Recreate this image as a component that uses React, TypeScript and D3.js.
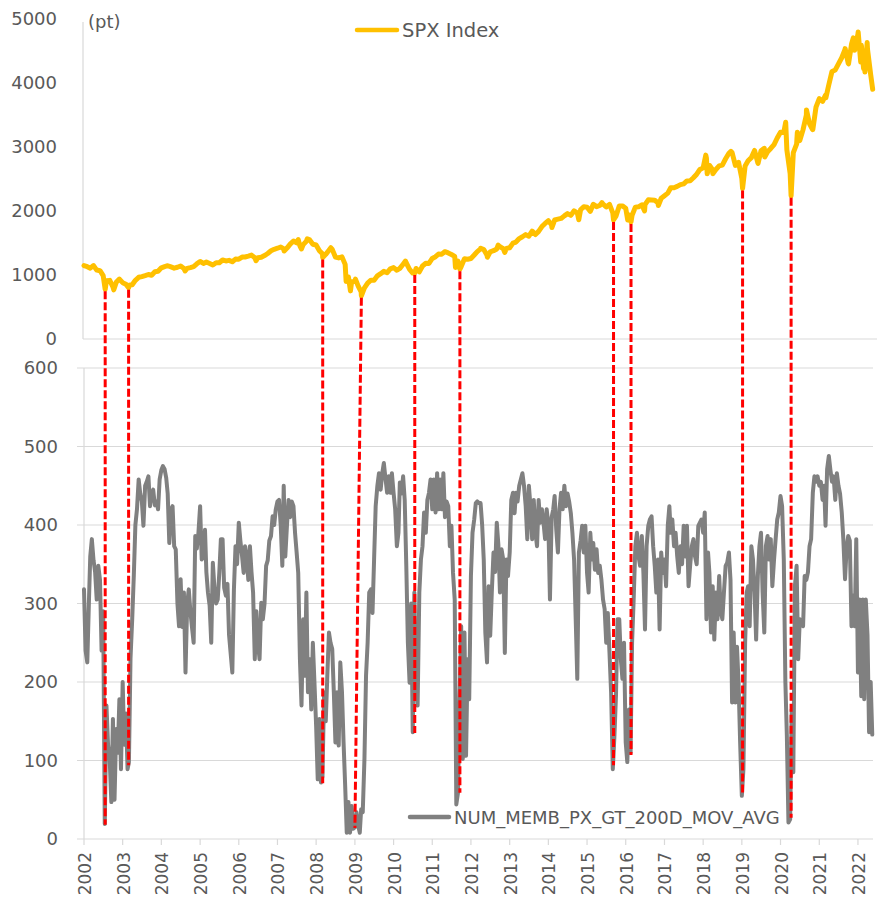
import React from 'react';
import * as d3 from 'd3';

// ---------- DATA ----------
// SPX Index: level at the first day of each month, Jan 2002 .. May 2022
const spxMonthly: number[] = [
  1148, 1130, 1107, 1147, 1077, 1067, 990, 912, 916, 815, 885, 936,
  880, 856, 841, 848, 917, 964, 975, 990, 1008, 996, 1051, 1058,
  1112, 1131, 1145, 1126, 1107, 1121, 1141, 1102, 1104, 1115, 1130, 1174,
  1212, 1181, 1204, 1181, 1157, 1192, 1191, 1234, 1220, 1229, 1207, 1249,
  1248, 1280, 1281, 1295, 1311, 1270, 1270, 1277, 1304, 1336, 1378, 1401,
  1418, 1438, 1407, 1421, 1482, 1531, 1503, 1455, 1474, 1527, 1549, 1481,
  1468, 1379, 1331, 1323, 1386, 1400, 1280, 1267, 1283, 1166, 969, 896,
  903, 826, 735, 798, 873, 919, 919, 987, 1021, 1057, 1036, 1096,
  1115, 1074, 1104, 1169, 1187, 1089, 1031, 1102, 1049, 1141, 1183, 1181,
  1258, 1286, 1327, 1326, 1364, 1345, 1321, 1292, 1219, 1131, 1253, 1247,
  1258, 1312, 1366, 1408, 1398, 1310, 1362, 1379, 1407, 1441, 1412, 1416,
  1426, 1498, 1515, 1569, 1598, 1631, 1606, 1686, 1633, 1682, 1757, 1806,
  1848, 1783, 1859, 1872, 1884, 1924, 1960, 1931, 2003, 1972, 2018, 2068,
  2059, 1995, 2105, 2068, 2086, 2107, 2063, 2104, 1972, 1920, 2079, 2080,
  2044, 1940, 1932, 2060, 2065, 2097, 2099, 2174, 2171, 2168, 2126, 2199,
  2239, 2279, 2364, 2363, 2384, 2412, 2423, 2470, 2472, 2519, 2575, 2648,
  2674, 2824, 2714, 2641, 2648, 2705, 2718, 2816, 2902, 2914, 2712, 2760,
  2507, 2704, 2784, 2834, 2946, 2752, 2942, 2980, 2926, 2977, 3038, 3141,
  3231, 3226, 2954, 2585, 2912, 3044, 3100, 3271, 3500, 3363, 3270, 3622,
  3756, 3714, 3811, 3973, 4181, 4204, 4298, 4395, 4523, 4308, 4605, 4567,
  4766, 4516, 4374, 4530, 4132,
];

// SPX Index: intra-month highs and lows
const spxExtremes: [string, number][] = [
  ['2002-07-20', 776], ['2002-10-09', 768], ['2003-02-26', 800], ['2004-08-12', 1064],
  ['2006-06-13', 1223], ['2007-03-05', 1374], ['2007-07-16', 1553], ['2007-08-15', 1406],
  ['2007-10-09', 1565], ['2008-03-03', 1273], ['2008-05-19', 1426], ['2008-10-10', 899],
  ['2008-11-20', 752], ['2009-01-06', 935], ['2009-03-03', 676], ['2010-04-23', 1217],
  ['2010-07-20', 1030], ['2011-04-29', 1363], ['2011-08-08', 1119], ['2011-09-19', 1090],
  ['2012-04-02', 1419], ['2012-06-04', 1278], ['2012-09-14', 1466], ['2012-11-15', 1353],
  ['2014-02-03', 1741], ['2014-10-15', 1862], ['2015-05-21', 2131], ['2015-09-08', 1860],
  ['2016-01-20', 1859], ['2016-02-20', 1829], ['2016-06-27', 2001], ['2016-11-04', 2085],
  ['2018-01-26', 2873], ['2018-02-08', 2581], ['2018-04-02', 2582], ['2018-09-20', 2931],
  ['2019-01-08', 2351], ['2019-06-03', 2744], ['2019-08-05', 2844], ['2020-02-19', 3386],
  ['2020-04-10', 2237], ['2020-06-08', 3232], ['2020-09-02', 3580], ['2020-10-30', 3270],
  ['2021-03-04', 3768], ['2021-09-02', 4537], ['2021-10-04', 4300], ['2021-11-18', 4705],
  ['2021-12-01', 4513], ['2022-01-03', 4797], ['2022-01-27', 4327], ['2022-02-02', 4590],
  ['2022-02-23', 4225], ['2022-03-08', 4170], ['2022-03-29', 4631], ['2022-05-20', 3901],
];

// NUM_MEMB_PX_GT_200D_MOV_AVG: readings on the 1st and 16th of each month, Jan 2002 .. May 2022
const numSemiMonthly: number[] = [
  318, 240, 225, 300, 360, 382, 355, 340, 305, 348,
  330, 240, 290, 19, 170, 120, 100, 47, 153, 50,
  140, 110, 178, 89, 200, 120, 160, 89, 98, 230,
  280, 335, 400, 420, 458, 440, 430, 399, 450, 455,
  462, 424, 440, 445, 425, 430, 420, 458, 470, 475,
  471, 460, 440, 377, 420, 424, 373, 369, 300, 271,
  331, 270, 314, 212, 300, 318, 290, 270, 250, 386,
  370, 390, 424, 356, 360, 394, 340, 314, 297, 250,
  352, 320, 300, 305, 339, 382, 382, 320, 310, 325,
  260, 237, 212, 318, 373, 350, 403, 380, 360, 339,
  373, 360, 330, 373, 340, 314, 229, 290, 250, 229,
  301, 280, 300, 348, 355, 380, 386, 411, 400, 420,
  430, 432, 399, 348, 450, 360, 400, 432, 410, 430,
  424, 390, 365, 339, 229, 170, 280, 208, 314, 187,
  229, 165, 250, 200, 144, 76, 153, 72, 80, 187,
  150, 210, 263, 250, 242, 187, 123, 187, 119, 225,
  187, 123, 68, 8, 47, 8, 42, 13, 15, 34,
  17, 8, 38, 34, 102, 208, 250, 314, 318, 288,
  356, 424, 450, 466, 445, 466, 479, 460, 441, 462,
  441, 466, 441, 420, 373, 390, 454, 440, 462, 432,
  348, 250, 199, 300, 136, 314, 195, 170, 314, 356,
  373, 416, 390, 432, 441, 458, 420, 458, 416, 466,
  420, 458, 420, 466, 410, 430, 424, 373, 399, 339,
  305, 44, 59, 180, 271, 102, 263, 106, 229, 178,
  335, 390, 407, 428, 430, 428, 428, 400, 356, 263,
  225, 322, 259, 314, 365, 340, 403, 375, 314, 369,
  356, 237, 356, 335, 365, 432, 441, 415, 441, 430,
  450, 458, 466, 450, 424, 382, 450, 424, 382, 432,
  390, 373, 432, 403, 420, 403, 382, 420, 400, 305,
  410, 420, 437, 395, 365, 420, 441, 420, 450, 424,
  440, 430, 415, 390, 355, 280, 204, 365, 380, 399,
  365, 399, 339, 314, 390, 356, 377, 343, 369, 339,
  348, 331, 305, 293, 250, 288, 237, 187, 89, 130,
  182, 280, 280, 229, 204, 250, 123, 98, 165, 110,
  250, 305, 373, 390, 360, 348, 386, 339, 267, 373,
  399, 407, 411, 373, 348, 314, 356, 267, 365, 339,
  356, 322, 399, 424, 390, 407, 373, 390, 360, 339,
  373, 350, 399, 360, 399, 322, 350, 373, 382, 360,
  350, 399, 403, 407, 390, 416, 280, 365, 339, 263,
  322, 254, 314, 280, 335, 290, 280, 314, 348, 352,
  365, 330, 174, 263, 174, 245, 200, 123, 55, 89,
  250, 314, 322, 271, 373, 356, 314, 254, 335, 373,
  390, 314, 263, 373, 386, 356, 382, 322, 356, 382,
  407, 416, 437, 424, 356, 200, 131, 21, 25, 165,
  85, 322, 348, 229, 280, 275, 271, 335, 330, 340,
  373, 382, 441, 462, 455, 462, 450, 455, 432, 450,
  399, 471, 488, 470, 455, 462, 432, 466, 450, 440,
  416, 382, 331, 370, 386, 380, 271, 310, 271, 382,
  212, 305, 182, 305, 178, 305, 260, 136, 200, 133,
];

// Red dashed connectors: SPX trough date (top) -> breadth trough (bottom)
const linkTopDates: string[] = ['2002-07-20', '2003-02-26', '2008-03-03', '2009-03-03', '2010-07-20', '2011-09-19', '2015-09-08', '2016-02-20', '2019-01-08', '2020-04-10'];
const linkBottomDates: string[] = ['2002-07-20', '2003-02-26', '2008-03-03', '2009-01-01', '2010-07-20', '2011-09-19', '2015-09-08', '2016-02-20', '2019-01-08', '2020-04-10'];
const linkBottomValues: number[] = [18, 94, 71, 14, 135, 59, 94, 107, 59, 27];

const spxTicks: number[] = [0, 1000, 2000, 3000, 4000, 5000];
const numTicks: number[] = [0, 100, 200, 300, 400, 500, 600];
const yearTicks: number[] = d3.range(2002, 2023);

const spxLabel = 'SPX Index';
const numLabel = 'NUM_MEMB_PX_GT_200D_MOV_AVG';
const unitLabel = '(pt)';

// ---------- STYLE ----------
const FONT = '"DejaVu Sans", sans-serif';
const TXT = '#595959';
const GRID = '#d9d9d9';
const GOLD = '#FFC000';
const GRAY = '#808080';
const RED = '#FF0000';

type P = { d: Date; v: number };

export default function App() {
  const parse = d3.timeParse('%Y-%m-%d') as (s: string) => Date;
  const x = d3.scaleTime().domain([new Date(2002, 0, 1), new Date(2022, 4, 23)]).range([84, 873]);
  const yTop = d3.scaleLinear().domain([0, 5000]).range([339, 19]);
  const yBot = d3.scaleLinear().domain([0, 600]).range([839, 368]);

  const spx: P[] = [
    ...spxMonthly.map((v, i) => ({ d: d3.timeMonth.offset(new Date(2002, 0, 1), i), v })),
    ...spxExtremes.map(([s, v]) => ({ d: parse(s), v })),
  ].sort((a, b) => +a.d - +b.d);

  const num: P[] = numSemiMonthly.map((v, i) => ({
    d: new Date(2002, Math.floor(i / 2), i % 2 ? 16 : 1),
    v,
  }));

  const spxAt = (d: Date) => {
    const bis = d3.bisector((p: P) => +p.d).left;
    const i = bis(spx, +d);
    if (i <= 0) return spx[0].v;
    if (i >= spx.length) return spx[spx.length - 1].v;
    const a = spx[i - 1], b = spx[i];
    if (+b.d === +d) return b.v;
    const t = (+d - +a.d) / (+b.d - +a.d);
    return a.v + t * (b.v - a.v);
  };

  const lineTop = d3.line<P>().x(p => x(p.d)).y(p => yTop(p.v));
  const lineBot = d3.line<P>().x(p => x(p.d)).y(p => yBot(p.v));

  return (
    <svg width={882} height={900} style={{ position: 'absolute', left: 0, top: 0, background: '#fff' }}
      fontFamily={FONT}>
      {/* ---- Top panel ---- */}
      <line x1={83} x2={83} y1={22} y2={339} stroke={GRID} strokeWidth={1.2} />
      <line x1={83} x2={877} y1={339} y2={339} stroke={GRID} strokeWidth={1.2} />
      {spxTicks.map(t => (
        <text key={'st' + t} x={57} y={yTop(t)} dy="0.36em" textAnchor="end" fontSize={18} fill={TXT}>{t}</text>
      ))}
      <text x={88} y={28} fontSize={18} fill={TXT}>{unitLabel}</text>
      <line x1={357} x2={397} y1={30} y2={30} stroke={GOLD} strokeWidth={4.5} strokeLinecap="round" />
      <text x={402} y={36.5} fontSize={19.5} fill={TXT}>{spxLabel}</text>
      <path d={lineTop(spx) || ''} fill="none" stroke={GOLD} strokeWidth={5} strokeLinejoin="round" strokeLinecap="round" />

      {/* cover, as the lower panel sits over the top one */}
      <rect x={0} y={345} width={882} height={555} fill="#fff" />

      {/* ---- Bottom panel ---- */}
      {numTicks.map(t => (
        <line key={'g' + t} x1={77} x2={873} y1={yBot(t)} y2={yBot(t)} stroke={GRID} strokeWidth={1.2} />
      ))}
      <line x1={84} x2={84} y1={368} y2={839} stroke={GRID} strokeWidth={1.2} />
      {yearTicks.map(yr => {
        const xx = x(new Date(yr, 0, 1));
        return (
          <g key={'y' + yr}>
            <line x1={xx} x2={xx} y1={839} y2={845} stroke={GRID} strokeWidth={1.2} />
            <text transform={`translate(${xx + 7},852) rotate(-90)`} textAnchor="end" fontSize={17} fill={TXT}>{yr}</text>
          </g>
        );
      })}
      {numTicks.map(t => (
        <text key={'nt' + t} x={58} y={yBot(t)} dy="0.36em" textAnchor="end" fontSize={18} fill={TXT}>{t}</text>
      ))}
      <line x1={410} x2={449} y1={817} y2={817} stroke={GRAY} strokeWidth={4.5} strokeLinecap="round" />
      <text x={454} y={823.5} fontSize={18} fill={TXT}>{numLabel}</text>
      <path d={lineBot(num) || ''} fill="none" stroke={GRAY} strokeWidth={4} strokeLinejoin="round" strokeLinecap="round" />

      {/* ---- Red dashed connectors ---- */}
      {linkTopDates.map((s, i) => {
        const dTop = parse(s);
        const dBot = parse(linkBottomDates[i]);
        return (
          <line key={'r' + i} x1={x(dTop)} y1={yTop(spxAt(dTop)) + 2} x2={x(dBot)} y2={yBot(linkBottomValues[i])}
            stroke={RED} strokeWidth={3} strokeDasharray="8 3" />
        );
      })}
    </svg>
  );
}
